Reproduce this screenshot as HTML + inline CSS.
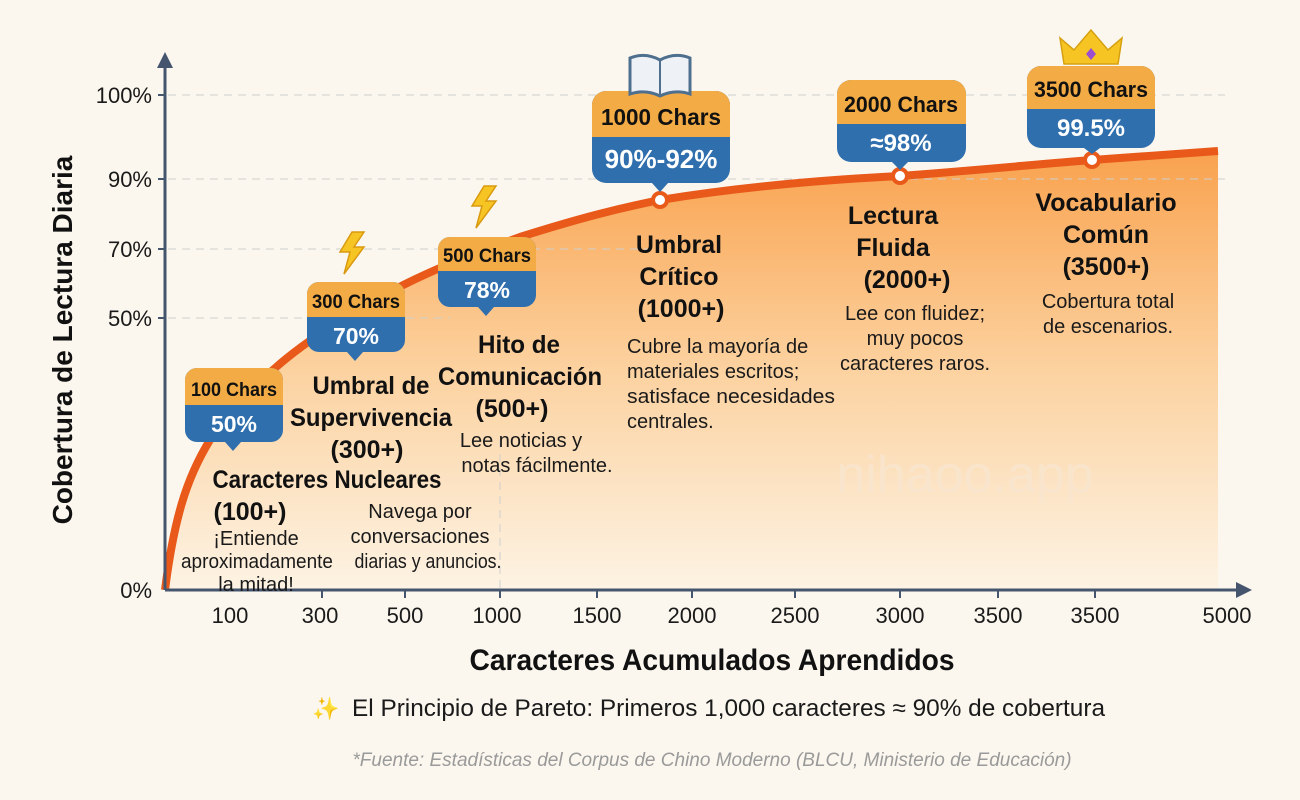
<!DOCTYPE html>
<html><head><meta charset="utf-8"><style>
html,body{margin:0;padding:0;background:#fbf7ee;}
svg{display:block}
text{font-family:"Liberation Sans Narrow","Liberation Sans",sans-serif;}
.b{font-weight:bold;fill:#111;}
.n{fill:#1a1a1a;}
</style></head><body>
<svg width="1300" height="800" viewBox="0 0 1300 800">
<defs>
<linearGradient id="g" x1="0" y1="0" x2="0" y2="1">
<stop offset="0" stop-color="#f9a24e"/>
<stop offset="0.5" stop-color="#fcd2a0"/>
<stop offset="1" stop-color="#fdf3e4"/>
</linearGradient>
</defs>
<rect width="1300" height="800" fill="#fbf7ee"/>
<path d="M165,590 C175,510 190,470 215,432 C260,375 300,345 345,318 C400,283 450,262 520,237 C580,218 620,208 660,200 C740,187 820,180 900,176 C980,170 1040,164 1092,160 C1150,156 1190,153 1218,151 L1218,590 Z" fill="url(#g)"/>
<g stroke="#cfcfcf" stroke-dasharray="8,6" stroke-width="1">
<line x1="168" y1="95" x2="1225" y2="95"/>
<line x1="168" y1="179" x2="1225" y2="179"/>
<line x1="168" y1="249" x2="660" y2="249"/>
<line x1="168" y1="318" x2="450" y2="318"/>
<line x1="500" y1="440" x2="500" y2="590"/>
</g>
<path d="M165,590 C175,510 190,470 215,432 C260,375 300,345 345,318 C400,283 450,262 520,237 C580,218 620,208 660,200 C740,187 820,180 900,176 C980,170 1040,164 1092,160 C1150,156 1190,153 1218,151" fill="none" stroke="#e8591a" stroke-width="8"/>
<g stroke="#46556e" stroke-width="3" fill="none">
<line x1="165" y1="66" x2="165" y2="590"/>
<line x1="165" y1="590" x2="1240" y2="590"/>
</g>
<path d="M165,52 L157,68 L173,68 Z" fill="#46556e"/>
<path d="M1252,590 L1236,582 L1236,598 Z" fill="#46556e"/>
<g stroke="#46556e" stroke-width="2">
<line x1="322" y1="590" x2="322" y2="598"/><line x1="405" y1="590" x2="405" y2="598"/><line x1="500" y1="590" x2="500" y2="598"/><line x1="597" y1="590" x2="597" y2="598"/><line x1="692" y1="590" x2="692" y2="598"/><line x1="795" y1="590" x2="795" y2="598"/><line x1="900" y1="590" x2="900" y2="598"/><line x1="998" y1="590" x2="998" y2="598"/><line x1="1095" y1="590" x2="1095" y2="598"/>
<line x1="158" y1="95" x2="165" y2="95"/><line x1="158" y1="179" x2="165" y2="179"/><line x1="158" y1="249" x2="165" y2="249"/><line x1="158" y1="318" x2="165" y2="318"/>
</g>
<g font-size="22" class="n" text-anchor="end">
<text x="152" y="103">100%</text><text x="152" y="187">90%</text><text x="152" y="257">70%</text><text x="152" y="326">50%</text><text x="152" y="598">0%</text>
</g>
<text transform="translate(72,340) rotate(-90)" text-anchor="middle" font-size="28" class="b">Cobertura de Lectura Diaria</text>
<g font-size="22" class="n" text-anchor="middle">
<text x="230" y="623">100</text><text x="320" y="623">300</text><text x="405" y="623">500</text><text x="497" y="623">1000</text><text x="597" y="623">1500</text><text x="692" y="623">2000</text><text x="795" y="623">2500</text><text x="900" y="623">3000</text><text x="998" y="623">3500</text><text x="1095" y="623">3500</text><text x="1227" y="623">5000</text>
</g>
<text x="712" y="670" text-anchor="middle" font-size="30" class="b" textLength="485" lengthAdjust="spacingAndGlyphs">Caracteres Acumulados Aprendidos</text>
<text x="312" y="716" font-size="22" fill="#c9a0e8">✨</text>
<text x="352" y="716" font-size="24" class="n" textLength="753" lengthAdjust="spacingAndGlyphs">El Principio de Pareto: Primeros 1,000 caracteres ≈ 90% de cobertura</text>
<text x="712" y="766" text-anchor="middle" font-size="19" font-style="italic" fill="#9a9a9a">*Fuente: Estadísticas del Corpus de Chino Moderno (BLCU, Ministerio de Educación)</text>
<text x="965" y="492" text-anchor="middle" font-size="52" fill="#f8e6d2" opacity="0.7">nihaoo.app</text>
<g fill="#fff" stroke="#e8591a" stroke-width="4">
<circle cx="660" cy="200" r="7"/><circle cx="900" cy="176" r="7"/><circle cx="1092" cy="160" r="7"/>
</g>
<g>
<path d="M185,380 a12,12 0 0 1 12,-12 h74 a12,12 0 0 1 12,12 v50 a12,12 0 0 1 -12,12 h-30 l-8,9 l-8,-9 h-28 a12,12 0 0 1 -12,-12 Z" fill="#2f6fad"/>
<path d="M185,380 a12,12 0 0 1 12,-12 h74 a12,12 0 0 1 12,12 v25 h-98 Z" fill="#f3ac45"/>
<text x="234" y="396" text-anchor="middle" font-size="19" class="b" textLength="86" lengthAdjust="spacingAndGlyphs">100 Chars</text>
<text x="234" y="432" text-anchor="middle" font-size="23" font-weight="bold" fill="#fff">50%</text>
<path d="M307,294 a12,12 0 0 1 12,-12 h74 a12,12 0 0 1 12,12 v46 a12,12 0 0 1 -12,12 h-30 l-8,9 l-8,-9 h-28 a12,12 0 0 1 -12,-12 Z" fill="#2f6fad"/>
<path d="M307,294 a12,12 0 0 1 12,-12 h74 a12,12 0 0 1 12,12 v23 h-98 Z" fill="#f3ac45"/>
<text x="356" y="308" text-anchor="middle" font-size="19" class="b" textLength="88" lengthAdjust="spacingAndGlyphs">300 Chars</text>
<text x="356" y="344" text-anchor="middle" font-size="23" font-weight="bold" fill="#fff">70%</text>
<path d="M438,249 a12,12 0 0 1 12,-12 h74 a12,12 0 0 1 12,12 v46 a12,12 0 0 1 -12,12 h-30 l-8,9 l-8,-9 h-28 a12,12 0 0 1 -12,-12 Z" fill="#2f6fad"/>
<path d="M438,249 a12,12 0 0 1 12,-12 h74 a12,12 0 0 1 12,12 v22 h-98 Z" fill="#f3ac45"/>
<text x="487" y="262" text-anchor="middle" font-size="19" class="b" textLength="88" lengthAdjust="spacingAndGlyphs">500 Chars</text>
<text x="487" y="298" text-anchor="middle" font-size="23" font-weight="bold" fill="#fff">78%</text>
<path d="M592,105 a14,14 0 0 1 14,-14 h110 a14,14 0 0 1 14,14 v64 a14,14 0 0 1 -14,14 h-48 l-8,9 l-8,-9 h-46 a14,14 0 0 1 -14,-14 Z" fill="#2f6fad"/>
<path d="M592,105 a14,14 0 0 1 14,-14 h110 a14,14 0 0 1 14,14 v32 h-138 Z" fill="#f3ac45"/>
<text x="661" y="125" text-anchor="middle" font-size="23" class="b" textLength="120" lengthAdjust="spacingAndGlyphs">1000 Chars</text>
<text x="661" y="168" text-anchor="middle" font-size="26" font-weight="bold" fill="#fff">90%-92%</text>
<path d="M837,94 a14,14 0 0 1 14,-14 h101 a14,14 0 0 1 14,14 v54 a14,14 0 0 1 -14,14 h-44 l-8,8 l-8,-8 h-41 a14,14 0 0 1 -14,-14 Z" fill="#2f6fad"/>
<path d="M837,94 a14,14 0 0 1 14,-14 h101 a14,14 0 0 1 14,14 v30 h-129 Z" fill="#f3ac45"/>
<text x="901" y="112" text-anchor="middle" font-size="22" class="b" textLength="114" lengthAdjust="spacingAndGlyphs">2000 Chars</text>
<text x="901" y="151" text-anchor="middle" font-size="24" font-weight="bold" fill="#fff">≈98%</text>
<path d="M1027,80 a14,14 0 0 1 14,-14 h100 a14,14 0 0 1 14,14 v54 a14,14 0 0 1 -14,14 h-41 l-8,6 l-8,-6 h-43 a14,14 0 0 1 -14,-14 Z" fill="#2f6fad"/>
<path d="M1027,80 a14,14 0 0 1 14,-14 h100 a14,14 0 0 1 14,14 v29 h-128 Z" fill="#f3ac45"/>
<text x="1091" y="97" text-anchor="middle" font-size="22" class="b" textLength="114" lengthAdjust="spacingAndGlyphs">3500 Chars</text>
<text x="1091" y="136" text-anchor="middle" font-size="24" font-weight="bold" fill="#fff">99.5%</text>
</g>
<path d="M352,232 l-12,20 h10 l-6,22 l20,-27 h-10 l10,-15 Z" fill="#f6c524" stroke="#d99a10" stroke-width="1.5"/>
<path d="M484,186 l-12,20 h10 l-6,22 l20,-27 h-10 l10,-15 Z" fill="#f6c524" stroke="#d99a10" stroke-width="1.5"/>
<g>
<path d="M630,58 q15,-6 30,2 q15,-8 30,-2 v36 q-15,-5 -30,2 q-15,-7 -30,-2 Z" fill="#eef2f6" stroke="#4f6f8f" stroke-width="3"/>
<line x1="660" y1="60" x2="660" y2="96" stroke="#4f6f8f" stroke-width="2"/>
</g>
<path d="M1064,64 l-4,-26 l14,12 l17,-20 l17,20 l14,-12 l-4,26 Z" fill="#f6c524" stroke="#d6a010" stroke-width="1.5"/>
<path d="M1091,48 l5,6 l-5,6 l-5,-6 Z" fill="#9b4fd0"/>
<g text-anchor="middle">
<text x="327" y="488" font-size="25" class="b" textLength="229" lengthAdjust="spacingAndGlyphs">Caracteres Nucleares</text>
<text x="250" y="520" font-size="25" class="b">(100+)</text>
<g font-size="20" class="n"><text x="256" y="545">¡Entiende</text><text x="257" y="568" textLength="152" lengthAdjust="spacingAndGlyphs">aproximadamente</text><text x="256" y="591">la mitad!</text></g>
<text x="371" y="394" font-size="25" class="b" textLength="117" lengthAdjust="spacingAndGlyphs">Umbral de</text>
<text x="371" y="426" font-size="25" class="b" textLength="162" lengthAdjust="spacingAndGlyphs">Supervivencia</text>
<text x="367" y="458" font-size="25" class="b">(300+)</text>
<g font-size="20" class="n"><text x="420" y="518">Navega por</text><text x="420" y="543">conversaciones</text><text x="428" y="568" textLength="147" lengthAdjust="spacingAndGlyphs">diarias y anuncios.</text></g>
<text x="519" y="353" font-size="25" class="b" textLength="82" lengthAdjust="spacingAndGlyphs">Hito de</text>
<text x="520" y="385" font-size="25" class="b" textLength="164" lengthAdjust="spacingAndGlyphs">Comunicación</text>
<text x="512" y="417" font-size="25" class="b">(500+)</text>
<g font-size="20" class="n"><text x="521" y="447">Lee noticias y</text><text x="537" y="472">notas fácilmente.</text></g>
<text x="679" y="253" font-size="25" class="b">Umbral</text>
<text x="679" y="285" font-size="25" class="b">Crítico</text>
<text x="681" y="317" font-size="25" class="b">(1000+)</text>
<g font-size="20" class="n" text-anchor="start"><text x="627" y="353">Cubre la mayoría de</text><text x="627" y="378">materiales escritos;</text><text x="627" y="403" textLength="208" lengthAdjust="spacingAndGlyphs">satisface necesidades</text><text x="627" y="428">centrales.</text></g>
<text x="893" y="224" font-size="25" class="b">Lectura</text>
<text x="893" y="256" font-size="25" class="b">Fluida</text>
<text x="907" y="288" font-size="25" class="b">(2000+)</text>
<g font-size="20" class="n"><text x="915" y="320">Lee con fluidez;</text><text x="915" y="345">muy pocos</text><text x="915" y="370">caracteres raros.</text></g>
<text x="1106" y="211" font-size="25" class="b">Vocabulario</text>
<text x="1106" y="243" font-size="25" class="b">Común</text>
<text x="1106" y="275" font-size="25" class="b">(3500+)</text>
<g font-size="20" class="n"><text x="1108" y="308">Cobertura total</text><text x="1108" y="333">de escenarios.</text></g>
</g>
</svg>
</body></html>
